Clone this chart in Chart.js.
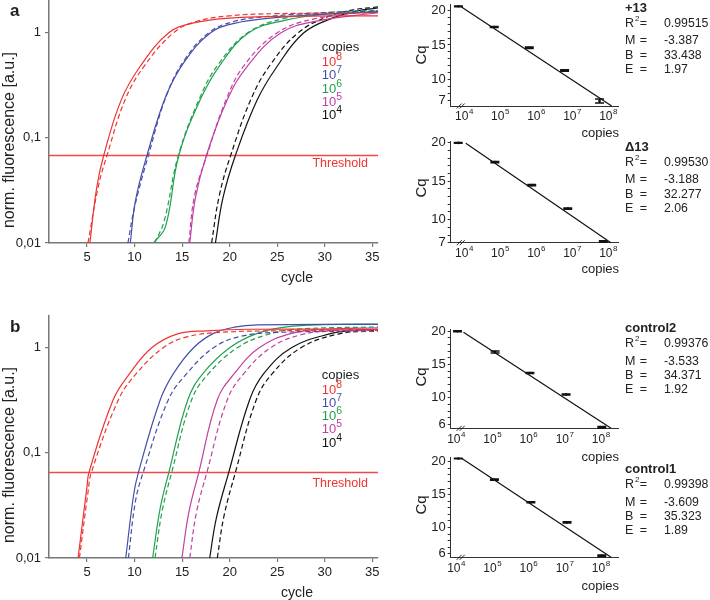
<!DOCTYPE html>
<html>
<head>
<meta charset="utf-8">
<script src="https://cdn.jsdelivr.net/npm/chart.js@4.4.1/dist/chart.umd.min.js"></script>
<style>
  body { margin: 0; width: 710px; height: 600px; overflow: hidden; position: relative; background: #fff;
         font-family: "Liberation Sans", Arial, Helvetica, sans-serif; color: #222; }
  canvas { position: absolute; }
  .lbl { position: absolute; white-space: nowrap; line-height: 1; }
  sup { font-size: 0.8em; vertical-align: 0.5em; line-height: 0; }
</style>
</head>
<body>
<canvas id="ampA" width="380" height="285" style="left:0;top:0"></canvas>
<canvas id="ampB" width="380" height="285" style="left:0;top:315px"></canvas>
<canvas id="stdPlus13" width="300" height="140" style="left:400px;top:0"></canvas>
<canvas id="stdDelta13" width="300" height="140" style="left:400px;top:137px"></canvas>
<canvas id="stdControl2" width="300" height="140" style="left:400px;top:325px"></canvas>
<canvas id="stdControl1" width="300" height="140" style="left:400px;top:453px"></canvas>
<script>
const FONT = '"Liberation Sans", Arial, Helvetica, sans-serif';

// amplification plots
const cycleTicks = [5, 10, 15, 20, 25, 30, 35];
const fluoTicks = [0.01, 0.1, 1];
const fluoTickLabels = ['0,01', '0,1', '1'];
const copyExps = ['8', '7', '6', '5', '4'];
const copyColors = ['#ee3333', '#4450a8', '#22a050', '#c040a0', '#111111'];
const thresholdA = 0.068;
const thresholdB = 0.065;

// panel a, [cycle, norm. fluorescence]
const a8Solid = [[5.3,0.01],[6.0,0.033],[6.75,0.068],[8.6,0.23],[10.6,0.48],[13.6,1.0],[16.2,1.24],[20,1.38],[25,1.43],[35.6,1.45]];
const a8Dashed = [[5.1,0.01],[6.2,0.035],[7.1,0.068],[9.0,0.23],[11.0,0.48],[14.1,1.0],[16.5,1.28],[20,1.45],[25,1.52],[35.6,1.55]];
const a7Solid = [[9.55,0.01],[10.1,0.0255],[11.3,0.068],[13.3,0.25],[15.3,0.54],[18.0,1.0],[20.5,1.23],[24,1.37],[31,1.52],[35.6,1.57]];
const a7Dashed = [[9.3,0.01],[10.0,0.022],[11.45,0.068],[13.4,0.26],[15.3,0.56],[17.8,1.0],[20.3,1.27],[24,1.43],[31,1.57],[35.6,1.61]];
const a6Solid = [[12.0,0.01],[13.25,0.0143],[14.65,0.068],[16.9,0.23],[18.9,0.48],[22.0,1.0],[25.9,1.32],[30,1.5],[35.6,1.6]];
const a6Dashed = [[12.1,0.01],[13.1,0.016],[14.6,0.068],[16.85,0.24],[18.8,0.5],[21.9,1.0],[25.6,1.36],[30,1.55],[35.6,1.64]];
const a5Solid = [[15.8,0.01],[16.4,0.027],[17.55,0.068],[19.75,0.23],[21.85,0.48],[25.4,1.0],[29.3,1.3],[35.6,1.55]];
const a5Dashed = [[15.7,0.01],[16.3,0.028],[17.6,0.068],[19.7,0.24],[21.6,0.5],[25.0,1.0],[28.8,1.35],[35.6,1.62]];
const a4Solid = [[18.5,0.01],[19.3,0.027],[20.6,0.068],[22.9,0.23],[25.0,0.48],[27.8,1.0],[31.0,1.4],[33.5,1.62],[35.6,1.72]];
const a4Dashed = [[18.1,0.01],[18.9,0.028],[20.1,0.068],[22.3,0.24],[24.3,0.5],[27.2,1.0],[30.3,1.42],[33,1.65],[35.6,1.76]];

// panel b
const b8Solid = [[4.06,0.01],[5.0,0.048],[5.2,0.065],[7.75,0.32],[9.5,0.57],[11.8,1.0],[14.45,1.35],[17.6,1.45],[22,1.5],[35.6,1.5]];
const b8Dashed = [[4.2,0.01],[5.1,0.042],[5.45,0.065],[8.3,0.32],[10.2,0.57],[13.0,1.0],[15.5,1.27],[19,1.4],[25,1.45],[35.6,1.46]];
const b7Solid = [[9.07,0.01],[9.9,0.04],[10.4,0.065],[12.7,0.32],[14.1,0.57],[16.2,1.0],[18.3,1.37],[20.5,1.57],[23,1.65],[35.6,1.67]];
const b7Dashed = [[9.35,0.01],[10.1,0.035],[10.9,0.065],[13.55,0.32],[15.5,0.57],[18.3,1.0],[21.1,1.28],[25,1.4],[35.6,1.43]];
const b6Solid = [[11.9,0.01],[12.7,0.03],[13.6,0.065],[15.6,0.32],[17.2,0.57],[20.0,1.0],[22.9,1.37],[26,1.58],[30,1.66],[35.6,1.68]];
const b6Dashed = [[12.15,0.01],[12.9,0.028],[13.9,0.065],[16.0,0.32],[17.8,0.57],[20.8,1.0],[23.9,1.33],[27,1.5],[35.6,1.58]];
const b5Solid = [[14.98,0.01],[15.7,0.027],[16.75,0.065],[18.7,0.32],[20.5,0.57],[23.1,1.0],[26.5,1.37],[30,1.5],[35.6,1.55]];
const b5Dashed = [[15.8,0.01],[16.5,0.027],[17.6,0.065],[19.75,0.32],[21.5,0.57],[24.3,1.0],[27.5,1.33],[31,1.46],[35.6,1.5]];
const b4Solid = [[17.9,0.01],[18.6,0.024],[19.9,0.065],[22.1,0.32],[23.6,0.57],[26.5,1.0],[30.7,1.37],[33,1.46],[35.6,1.5]];
const b4Dashed = [[18.7,0.01],[19.4,0.025],[20.6,0.065],[22.8,0.32],[24.5,0.57],[27.5,1.0],[31.4,1.35],[35.6,1.47]];

// standard curves: copies, Cq, sd, fit line ends
const decadeTicks = [1e4, 1e5, 1e6, 1e7, 1e8];
const decadeExps = ['4', '5', '6', '7', '8'];
const statNames = ['R<sup style="font-size:8px;vertical-align:6px;margin-left:1px">2</sup>', 'M', 'B', 'E'];

const plus13Copies = [7e3, 6.9e4, 6.5e5, 6.2e6, 5.8e7];
const plus13Cq = [20.6, 17.6, 14.6, 11.3, 6.9];
const plus13Sd = [0.05, 0.08, 0.1, 0.1, 0.3];
const plus13Fit = [[8.5e3, 20.5], [1.26e8, 6.17]];
const plus13Stats = ['0.99515', '-3.387', '33.438', '1.97'];

const delta13Copies = [6.9e3, 7.2e4, 7.6e5, 7.6e6, 7.4e7];
const delta13Cq = [20.0, 17.5, 14.5, 11.45, 7.15];
const delta13Sd = [0.05, 0.08, 0.08, 0.08, 0.1];
const delta13Fit = [[1.12e4, 19.95], [1.2e8, 7.0]];
const delta13Stats = ['0.99530', '-3.188', '32.277', '2.06'];

const control2Copies = [1.1e4, 1.2e5, 1.1e6, 1.1e7, 1.07e8];
const control2Cq = [20.0, 16.87, 13.74, 10.5, 5.6];
const control2Sd = [0.08, 0.15, 0.08, 0.08, 0.12];
const control2Fit = [[1.6e4, 19.85], [1.93e8, 5.44]];
const control2Stats = ['0.99376', '-3.533', '34.371', '1.92'];

const control1Copies = [1.15e4, 1.15e5, 1.17e6, 1.17e7, 1.07e8];
const control1Cq = [20.5, 17.28, 13.84, 10.78, 5.7];
const control1Sd = [0.05, 0.1, 0.08, 0.08, 0.12];
const control1Fit = [[1.45e4, 20.5], [1.93e8, 5.47]];
const control1Stats = ['0.99398', '-3.609', '35.323', '1.89'];

// plugins
const expLabels = {
  id: 'expLabels',
  afterDraw(chart, args, o) {
    if (!o.values) return;
    const ctx = chart.ctx, sc = chart.scales.x;
    const y = chart.chartArea.bottom + o.dy;
    ctx.save();
    ctx.fillStyle = '#222';
    ctx.textBaseline = 'middle';
    ctx.textAlign = 'left';
    o.values.forEach((v, i) => {
      const px = sc.getPixelForValue(v);
      ctx.font = '12px ' + FONT;
      const bw = ctx.measureText('10').width;
      ctx.font = '8px ' + FONT;
      const ew = ctx.measureText(o.exps[i]).width;
      const left = px - (bw + ew) / 2;
      ctx.font = '12px ' + FONT;
      ctx.fillText('10', left, y);
      ctx.font = '8px ' + FONT;
      ctx.fillText(o.exps[i], left + bw + 0.5, y - 5);
    });
    ctx.restore();
  }
};

const errBars = {
  id: 'errBars',
  afterDatasetsDraw(chart, args, o) {
    if (!o.xs) return;
    const ctx = chart.ctx, x = chart.scales.x, y = chart.scales.y;
    ctx.save();
    ctx.strokeStyle = '#111';
    ctx.lineWidth = 1.5;
    o.xs.forEach((v, i) => {
      const px = x.getPixelForValue(v);
      const hi = y.getPixelForValue(o.cq[i] + o.sd[i]);
      const lo = y.getPixelForValue(o.cq[i] - o.sd[i]);
      ctx.beginPath();
      ctx.moveTo(px - 4.5, hi); ctx.lineTo(px + 4.5, hi);
      ctx.moveTo(px - 4.5, lo); ctx.lineTo(px + 4.5, lo);
      ctx.moveTo(px, hi); ctx.lineTo(px, lo);
      ctx.stroke();
    });
    ctx.restore();
  }
};

const axisBreak = {
  id: 'axisBreak',
  afterDraw(chart, args, o) {
    if (!o.on) return;
    const ctx = chart.ctx, left = chart.chartArea.left, bottom = chart.chartArea.bottom;
    ctx.save();
    ctx.strokeStyle = '#222';
    ctx.lineWidth = 1;
    [6, 9].forEach(d => {
      ctx.beginPath();
      ctx.moveTo(left + d, bottom + 2.5);
      ctx.lineTo(left + d + 5, bottom - 2.5);
      ctx.stroke();
    });
    ctx.restore();
  }
};

Chart.register(expLabels, errBars, axisBreak);

function toXY(arr) {
  return arr.map(p => ({ x: p[0], y: p[1] }));
}

function curve(arr, color, dash) {
  return {
    data: toXY(arr),
    borderColor: color,
    borderWidth: 1.2,
    borderDash: dash,
    pointRadius: 0,
    tension: 0.4
  };
}

function ampChart(id, solids, dashes, thr) {
  const datasets = [];
  solids.forEach((s, i) => {
    datasets.push(curve(s, copyColors[i], []));
    datasets.push(curve(dashes[i], copyColors[i], [5, 3]));
  });
  datasets.push({ data: [{ x: 1, y: thr }, { x: 35.6, y: thr }], borderColor: '#f04848', borderWidth: 1.4, pointRadius: 0 });

  return new Chart(document.getElementById(id), {
    type: 'line',
    data: { datasets },
    options: {
      responsive: false,
      animation: false,
      events: [],
      layout: { padding: { top: 0, left: 0, right: 2, bottom: 0 } },
      plugins: { legend: { display: false }, tooltip: { enabled: false } },
      scales: {
        x: {
          type: 'linear', min: 1, max: 35.6,
          afterBuildTicks: s => { s.ticks = cycleTicks.map(v => ({ value: v })); },
          afterFit: s => { s.height = 42; s.paddingLeft = 0; s.paddingRight = 0; },
          ticks: { font: { size: 13, family: FONT }, color: '#222', padding: 3, maxRotation: 0, autoSkip: false },
          grid: { drawOnChartArea: false, tickLength: 4, color: '#777', lineWidth: 1.2 },
          border: { color: '#777', width: 1.5 }
        },
        y: {
          type: 'logarithmic', min: 0.01, max: 2.05,
          afterBuildTicks: s => { s.ticks = fluoTicks.map(v => ({ value: v })); },
          afterFit: s => { s.width = 49; s.paddingTop = 0; s.paddingBottom = 0; },
          ticks: { callback: (v, i) => fluoTickLabels[i], font: { size: 13, family: FONT }, color: '#222', padding: 4, autoSkip: false },
          grid: { drawOnChartArea: false, tickLength: 4, color: '#777', lineWidth: 1.2 },
          border: { color: '#777', width: 1.5 }
        }
      }
    }
  });
}

function stdChart(id, c) {
  const minor = [];
  for (let v = Math.ceil(c.yMin); v <= c.yMax; v++) minor.push(v);
  return new Chart(document.getElementById(id), {
    type: 'line',
    data: {
      datasets: [
        { data: toXY(c.fit), borderColor: '#111', borderWidth: 1.2, pointRadius: 0 },
        { data: c.xs.map((v, i) => ({ x: v, y: c.cq[i] })), showLine: false, pointRadius: 1.3,
          pointBackgroundColor: '#111', pointBorderWidth: 0 }
      ]
    },
    options: {
      responsive: false,
      animation: false,
      events: [],
      clip: false,
      layout: { padding: { top: 0, left: 0, right: 81.5, bottom: 0 } },
      plugins: {
        legend: { display: false }, tooltip: { enabled: false },
        expLabels: { values: decadeTicks, exps: decadeExps, dy: 11 },
        errBars: { xs: c.xs, cq: c.cq, sd: c.sd },
        axisBreak: { on: true }
      },
      scales: {
        x: {
          type: 'logarithmic', min: c.xMin, max: c.xMax,
          afterBuildTicks: s => { s.ticks = decadeTicks.map(v => ({ value: v })); },
          afterFit: s => { s.height = c.xH; s.paddingLeft = 0; s.paddingRight = 0; },
          ticks: { display: false },
          grid: { display: false },
          border: { color: '#333', width: 1 }
        },
        y: {
          type: 'linear', min: c.yMin, max: c.yMax,
          afterBuildTicks: s => { s.ticks = minor.map(v => ({ value: v })); },
          afterFit: s => { s.width = 50.7; s.paddingTop = 0; s.paddingBottom = 0; },
          ticks: { callback: v => c.yMajor.includes(v) ? String(v) : '', font: { size: 13, family: FONT },
                   color: '#222', padding: 2, autoSkip: false },
          grid: { drawOnChartArea: false, tickLength: 3, color: '#333', lineWidth: 1 },
          border: { color: '#333', width: 1 }
        }
      }
    }
  });
}

ampChart('ampA', [a8Solid, a7Solid, a6Solid, a5Solid, a4Solid], [a8Dashed, a7Dashed, a6Dashed, a5Dashed, a4Dashed], thresholdA);
ampChart('ampB', [b8Solid, b7Solid, b6Solid, b5Solid, b4Solid], [b8Dashed, b7Dashed, b6Dashed, b5Dashed, b4Dashed], thresholdB);

stdChart('stdPlus13', { xs: plus13Copies, cq: plus13Cq, sd: plus13Sd, fit: plus13Fit,
  yMin: 6.17, yMax: 20.93, yMajor: [7, 10, 15, 20], xMin: 4270, xMax: 1.95e8, xH: 34 });
stdChart('stdDelta13', { xs: delta13Copies, cq: delta13Cq, sd: delta13Sd, fit: delta13Fit,
  yMin: 7, yMax: 20.25, yMajor: [7, 10, 15, 20], xMin: 4270, xMax: 1.95e8, xH: 34.3 });
stdChart('stdControl2', { xs: control2Copies, cq: control2Cq, sd: control2Sd, fit: control2Fit,
  yMin: 5.44, yMax: 20.33, yMajor: [6, 10, 15, 20], xMin: 7100, xMax: 3.1e8, xH: 36.7 });
stdChart('stdControl1', { xs: control1Copies, cq: control1Cq, sd: control1Sd, fit: control1Fit,
  yMin: 5.47, yMax: 20.73, yMajor: [6, 10, 15, 20], xMin: 7100, xMax: 3.1e8, xH: 35.7 });

// text
function label(html, x, y, o) {
  o = o || {};
  const d = document.createElement('div');
  d.className = 'lbl';
  d.innerHTML = html;
  d.style.left = x + 'px';
  d.style.top = y + 'px';
  d.style.fontSize = (o.size || 13) + 'px';
  if (o.color) d.style.color = o.color;
  if (o.bold) d.style.fontWeight = 'bold';
  const ax = o.align === 'r' ? '-100%' : o.align === 'c' ? '-50%' : '0';
  d.style.transform = o.rot ? 'translate(-50%,-50%) rotate(-90deg)' : 'translate(' + ax + ',-50%)';
  document.body.appendChild(d);
}

label('a', 10, 10, { size: 17, bold: true });
label('b', 10, 325.5, { size: 17, bold: true });

[0, 315].forEach((top, k) => {
  label('norm. fluorescence [a.u.]', 9, top + 140, { size: 16, rot: true });
  label('cycle', 297, top + 277, { size: 14, align: 'c' });
  label('Threshold', 368, top + (k ? 167.7 : 163), { size: 12.5, color: '#ee3333', align: 'r' });
  label('copies', 321.7, top + 45.7 + (k ? 13 : 0), { size: 13 });
  copyExps.forEach((e, i) => {
    label('10<sup>' + e + '</sup>', 321.7, top + 61 + (k ? 12.5 : 0) + i * 13.3, { size: 13, color: copyColors[i] });
  });
});

const stdPanels = [
  { name: '+13', stats: plus13Stats, y0: 7, cqY: 55, copiesY: 131.7 },
  { name: '&Delta;13', stats: delta13Stats, y0: 146, cqY: 188, copiesY: 268.3 },
  { name: 'control2', stats: control2Stats, y0: 327.3, cqY: 377, copiesY: 456 },
  { name: 'control1', stats: control1Stats, y0: 468.3, cqY: 505, copiesY: 585 }
];
const statOffsets = [15.7, 33.4, 47.7, 61.8];
stdPanels.forEach(p => {
  label(p.name, 625, p.y0, { size: 13, bold: true });
  statNames.forEach((n, i) => {
    label(n, 625, p.y0 + statOffsets[i], { size: 12.5 });
    label('=', 643.3, p.y0 + statOffsets[i], { size: 12.5, align: 'c' });
    label(p.stats[i], 664, p.y0 + statOffsets[i], { size: 12.3 });
  });
  label('Cq', 420, p.cqY, { size: 15, rot: true });
  label('copies', 619, p.copiesY, { size: 13, align: 'r' });
});
</script>
</body>
</html>
